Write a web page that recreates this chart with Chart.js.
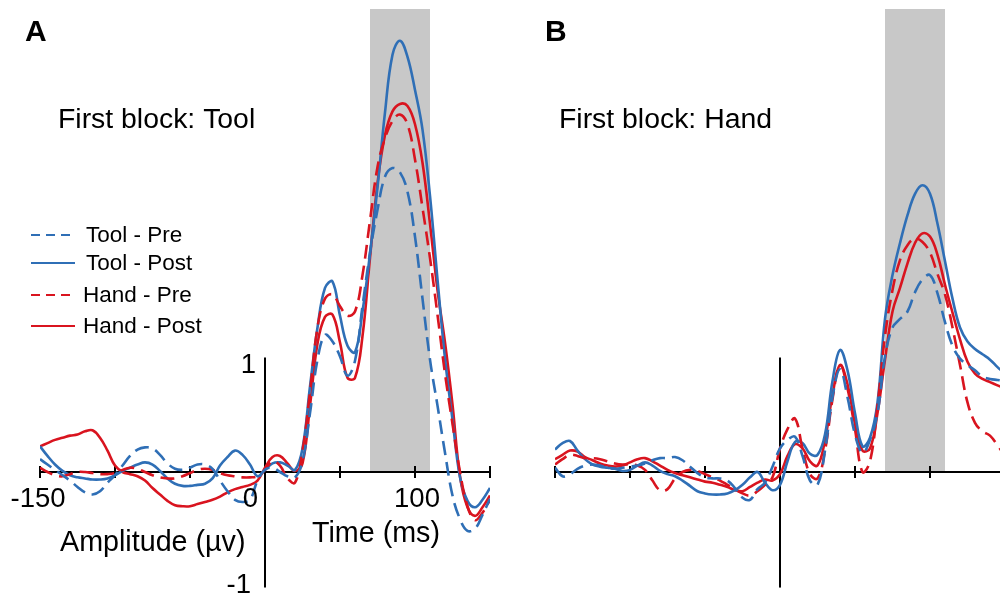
<!DOCTYPE html>
<html><head><meta charset="utf-8">
<script src="https://cdn.jsdelivr.net/npm/chart.js@4/dist/chart.umd.min.js"></script>
<style>
html,body{margin:0;padding:0;background:#fff;overflow:hidden;}
#wrap{position:relative;width:1000px;height:595px;}
.pane{position:absolute;top:0;width:500px;height:595px;}
</style></head><body>
<div id="wrap">
<div class="pane" style="left:0"><canvas id="cA" width="500" height="595"></canvas></div>
<div class="pane" style="left:500px"><canvas id="cB" width="500" height="595"></canvas></div>
</div>
<script>
// ---- data ----
const timeMs = [-150,-145,-140,-135,-130,-125,-120,-115,-110,-105,-100,-95,-90,-85,-80,-75,-70,-65,-60,-55,-50,-45,-40,-35,-30,-25,-20,-15,-10,-5,0,5,10,15,20,25,30,35,40,45,50,55,60,65,70,75,80,85,90,95,100,105,110,115,120,125,130,135,140,145,150];
const seriesNames = ['Tool - Pre','Tool - Post','Hand - Pre','Hand - Post'];
const panelTitles = ['First block: Tool','First block: Hand'];
const panelLetters = ['A','B'];
const xTickValues = [-150,-100,-50,0,50,100,150];
const xTickLabels = {'-150':'-150','0':'0','100':'100'};
const yTickLabels = {'1':'1','-1':'-1'};
const windowMs = [70,110];
const axisTitles = ['Time (ms)','Amplitude (\u00b5v)'];

// Panel A (first block: Tool)
const toolPreA  = [0.12,0.07,0.02,-0.03,-0.08,-0.14,-0.19,-0.21,-0.18,-0.10,-0.03,0.06,0.15,0.21,0.23,0.22,0.16,0.08,0.03,0.02,0.04,0.07,0.07,0.03,-0.08,-0.18,-0.26,-0.28,-0.26,-0.08,0.02,0.04,0.00,-0.04,-0.05,0.10,0.55,1.05,1.28,1.22,1.08,0.90,1.04,1.55,2.05,2.45,2.76,2.84,2.80,2.62,2.20,1.62,1.05,0.62,0.18,-0.22,-0.44,-0.55,-0.53,-0.40,-0.25];
const toolPostA = [0.24,0.15,0.07,0.01,-0.03,-0.05,-0.06,-0.07,-0.07,-0.06,-0.03,0.01,0.04,0.07,0.09,0.07,0.01,-0.06,-0.11,-0.13,-0.13,-0.12,-0.11,-0.06,0.06,0.14,0.20,0.16,0.07,-0.04,0.02,0.08,0.09,0.06,0.02,0.22,0.80,1.35,1.72,1.78,1.46,1.18,1.12,1.50,2.04,2.66,3.36,3.90,4.03,3.88,3.57,3.20,2.58,1.80,1.06,0.49,-0.05,-0.27,-0.33,-0.26,-0.15];
const handPreA  = [0.04,0.00,-0.03,-0.04,-0.02,0.00,0.00,-0.01,-0.02,-0.02,-0.01,0.02,0.04,0.03,0.00,-0.03,-0.05,-0.06,-0.06,-0.04,-0.01,0.02,0.03,0.02,-0.01,-0.03,-0.04,-0.05,-0.05,-0.04,0.02,0.10,0.06,-0.06,-0.10,0.20,0.75,1.35,1.62,1.66,1.55,1.46,1.50,1.84,2.35,2.85,3.12,3.28,3.34,3.25,2.92,2.47,2.00,1.47,0.92,0.45,0.00,-0.32,-0.45,-0.38,-0.26];
const handPostA = [0.24,0.27,0.30,0.32,0.34,0.35,0.38,0.39,0.32,0.20,0.06,0.00,-0.02,-0.04,-0.08,-0.15,-0.21,-0.27,-0.31,-0.32,-0.32,-0.30,-0.28,-0.26,-0.23,-0.19,-0.16,-0.14,-0.12,-0.08,0.04,0.14,0.15,0.08,0.01,0.08,0.62,1.20,1.45,1.47,1.21,0.88,0.88,1.27,2.00,2.70,3.15,3.37,3.44,3.42,3.25,2.89,2.32,1.70,1.21,0.63,-0.04,-0.33,-0.41,-0.33,-0.22];

// Panel B (first block: Hand)
const toolPreB  = [0.04,-0.04,-0.02,0.03,0.06,0.07,0.06,0.04,0.03,0.04,0.05,0.06,0.08,0.11,0.13,0.13,0.14,0.11,0.05,-0.01,-0.05,-0.06,-0.06,-0.08,-0.15,-0.24,-0.26,-0.16,-0.10,0.05,0.22,0.30,0.33,0.15,-0.08,-0.12,0.20,0.70,0.96,0.70,0.35,0.18,0.30,0.55,1.08,1.35,1.43,1.50,1.68,1.80,1.84,1.67,1.40,1.18,1.06,1.00,0.95,0.89,0.87,0.86,0.85];
const toolPostB = [0.21,0.27,0.29,0.20,0.12,0.07,0.05,0.04,0.03,0.01,0.02,0.06,0.09,0.06,0.01,-0.02,-0.04,-0.08,-0.13,-0.18,-0.20,-0.21,-0.21,-0.20,-0.17,-0.12,-0.05,0.00,-0.10,-0.17,-0.12,0.10,0.28,0.27,0.17,0.16,0.35,0.85,1.14,0.95,0.55,0.24,0.32,0.65,1.43,1.84,2.14,2.40,2.60,2.68,2.60,2.32,1.97,1.62,1.35,1.22,1.15,1.10,1.05,0.98,0.92];
const handPreB  = [0.07,0.12,0.16,0.15,0.13,0.13,0.12,0.10,0.08,0.07,0.07,0.06,0.02,-0.08,-0.17,-0.16,-0.06,0.00,0.02,0.01,-0.02,-0.05,-0.08,-0.12,-0.16,-0.20,-0.22,-0.18,-0.12,-0.05,0.22,0.40,0.50,0.22,-0.02,-0.06,0.20,0.68,1.00,0.78,0.40,0.00,0.10,0.62,1.27,1.70,1.98,2.12,2.18,2.15,2.05,1.85,1.66,1.35,1.00,0.65,0.46,0.38,0.34,0.25,0.15];
const handPostB = [0.12,0.16,0.20,0.19,0.14,0.11,0.08,0.06,0.05,0.06,0.09,0.12,0.13,0.10,0.06,0.02,-0.01,-0.03,-0.05,-0.07,-0.09,-0.10,-0.12,-0.14,-0.17,-0.18,-0.14,-0.10,-0.07,-0.08,-0.02,0.15,0.26,0.22,0.10,0.06,0.30,0.72,1.00,0.82,0.45,0.20,0.22,0.55,1.05,1.50,1.72,1.95,2.14,2.23,2.20,2.03,1.75,1.49,1.24,1.03,0.92,0.87,0.84,0.81,0.78];

// ---- styles ----
const BLUE = '#2f6fb6';
const RED = '#d9141f';
const FONT = '"Liberation Sans", Arial, Helvetica, sans-serif';

function pts(arr){ return timeMs.map((t,i)=>({x:t, y:arr[i]})); }
function ds(name, arr, color, dashed){
  return {label:name, data:pts(arr), borderColor:color, borderWidth:2.6,
    borderDash: dashed ? [14,7] : [], pointRadius:0, tension:0.4, fill:false};
}

const decor = {
  id:'decor',
  beforeDatasetsDraw(chart, args, o){
    const {ctx, chartArea} = chart;
    const x = chart.scales.x, y = chart.scales.y;
    const y0 = y.getPixelForValue(0);
    ctx.save();
    // analysis window
    const b0 = x.getPixelForValue(windowMs[0]), b1 = x.getPixelForValue(windowMs[1]);
    ctx.fillStyle = '#c8c8c8';
    ctx.fillRect(b0, chartArea.top, b1-b0, y0-chartArea.top);
    // x axis
    ctx.strokeStyle = '#000'; ctx.lineWidth = 2;
    ctx.beginPath();
    ctx.moveTo(x.getPixelForValue(-150)-1, y0);
    ctx.lineTo(Math.min(x.getPixelForValue(150), chartArea.right)+1, y0);
    ctx.stroke();
    ctx.beginPath();
    for (const t of xTickValues){
      const px = x.getPixelForValue(t);
      if (px > chartArea.right+1) continue;
      ctx.moveTo(px, y0-6); ctx.lineTo(px, y0+6);
    }
    ctx.stroke();
    // y axis (at time 0)
    const x0 = x.getPixelForValue(0);
    ctx.beginPath();
    ctx.moveTo(x0, y.getPixelForValue(1.07));
    ctx.lineTo(x0, y.getPixelForValue(-1.08));
    ctx.stroke();
    ctx.restore();
  },
  afterDatasetsDraw(chart, args, o){
    const {ctx} = chart;
    const x = chart.scales.x, y = chart.scales.y;
    const y0 = y.getPixelForValue(0);
    const x0 = x.getPixelForValue(0);
    ctx.save();
    ctx.fillStyle = '#000';
    ctx.textBaseline = 'alphabetic';
    // letter
    ctx.font = 'bold 30px ' + FONT;
    ctx.textAlign = 'left';
    ctx.fillText(o.letter, o.letterX, 41);
    // panel title
    ctx.font = '28.4px ' + FONT;
    ctx.fillText(o.title, o.titleX, 128);
    if (o.labels){
      ctx.font = '27.5px ' + FONT;
      ctx.textAlign = 'center';
      ctx.fillText(xTickLabels['-150'], x.getPixelForValue(-150)-2, y0+35);
      ctx.fillText(xTickLabels['100'], x.getPixelForValue(100)+2, y0+35);
      ctx.textAlign = 'right';
      ctx.fillText(xTickLabels['0'], x0-7, y0+35);
      ctx.fillText(yTickLabels['1'], x0-9, y.getPixelForValue(1)+8);
      ctx.fillText(yTickLabels['-1'], x0-14, y.getPixelForValue(-1)+14);
      ctx.textAlign = 'left';
      ctx.font = '28.7px ' + FONT;
      ctx.fillText(axisTitles[1], 60, y0+79);
      ctx.fillText(axisTitles[0], 312, y0+70);
    }
    if (o.legend){
      const items = [
        {n:seriesNames[0], c:BLUE, d:true,  ly:235, tx:86, ty:242},
        {n:seriesNames[1], c:BLUE, d:false, ly:263, tx:86, ty:270},
        {n:seriesNames[2], c:RED,  d:true,  ly:295, tx:83, ty:302},
        {n:seriesNames[3], c:RED,  d:false, ly:326, tx:83, ty:333}
      ];
      ctx.font = '22.5px ' + FONT;
      ctx.textAlign = 'left';
      for (const it of items){
        ctx.strokeStyle = it.c; ctx.lineWidth = 2.2;
        ctx.setLineDash(it.d ? [9,6] : []);
        ctx.beginPath(); ctx.moveTo(31, it.ly); ctx.lineTo(75, it.ly); ctx.stroke();
        ctx.setLineDash([]);
        ctx.fillStyle = '#000';
        ctx.fillText(it.n, it.tx, it.ty);
      }
    }
    ctx.restore();
  }
};

function makeChart(id, sets, xmax, padLeft, padRight, decorOpts){
  return new Chart(document.getElementById(id), {
    type:'line',
    data:{datasets:[
      ds(seriesNames[0], sets[0], BLUE, true),
      ds(seriesNames[2], sets[2], RED, true),
      ds(seriesNames[1], sets[1], BLUE, false),
      ds(seriesNames[3], sets[3], RED, false)
    ]},
    options:{
      responsive:false, animation:false, devicePixelRatio:1,
      layout:{padding:{left:padLeft, right:padRight, top:9, bottom:0}},
      scales:{
        x:{type:'linear', min:-150, max:xmax, display:false},
        y:{type:'linear', min:-1.1495, max:4.327, display:false}
      },
      plugins:{legend:{display:false}, tooltip:{enabled:false}, decor:decorOpts}
    },
    plugins:[decor]
  });
}

makeChart('cA', [toolPreA, toolPostA, handPreA, handPostA], 150, 40, 10,
  {letter:panelLetters[0], letterX:25, title:panelTitles[0], titleX:58, labels:true, legend:true});
makeChart('cB', [toolPreB, toolPostB, handPreB, handPostB], 146.667, 55, 0,
  {letter:panelLetters[1], letterX:45, title:panelTitles[1], titleX:59, labels:false, legend:false});
</script>
</body></html>
